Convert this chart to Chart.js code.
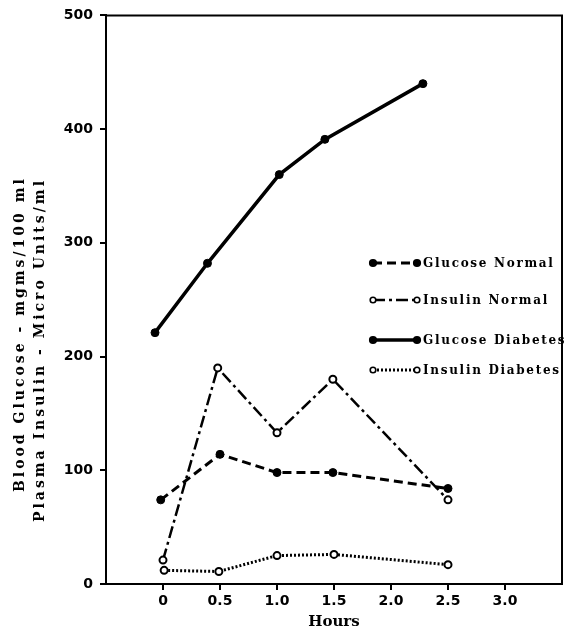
<!DOCTYPE html>
<html>
<head>
<meta charset="utf-8">
<script src="https://cdn.jsdelivr.net/npm/chart.js@4"></script>
<style>
    html, body { margin: 0; padding: 0; background: #fff; }
    #wrap { width: 568px; height: 630px; }
</style>
</head>
<body>
<div id="wrap"><canvas id="chart" width="568" height="630"></canvas></div>
<script>
// ------------------------------------------------------------------ data
const xTicks = [0, 0.5, 1.0, 1.5, 2.0, 2.5, 3.0];
const xTickLabels = ['0', '0.5', '1.0', '1.5', '2.0', '2.5', '3.0'];
const yTicks = [0, 100, 200, 300, 400, 500];

const glucoseNormalHours = [-0.02, 0.5, 1.0, 1.49, 2.5];
const glucoseNormal = [74, 114, 98, 98, 84];

const insulinNormalHours = [0.0, 0.48, 1.0, 1.49, 2.5];
const insulinNormal = [21, 190, 133, 180, 74];

const glucoseDiabetesHours = [-0.07, 0.39, 1.02, 1.42, 2.28];
const glucoseDiabetes = [221, 282, 360, 391, 440];

const insulinDiabetesHours = [0.01, 0.49, 1.0, 1.5, 2.5];
const insulinDiabetes = [12, 11, 25, 26, 17];

const seriesNames = ['Glucose Normal', 'Insulin Normal', 'Glucose Diabetes', 'Insulin Diabetes'];
const yTitleLines = ['Blood Glucose - mgms/100 ml', 'Plasma Insulin - Micro Units/ml'];
const xTitle = 'Hours';

// ------------------------------------------------------------------ helpers
const SERIF = '"DejaVu Serif", serif';
const SANS = '"DejaVu Sans", sans-serif';

const toPoints = (hours, vals) => hours.map((h, i) => ({ x: h, y: vals[i] }));

function series(label, pts, dash, width, open) {
    return {
        label,
        data: pts,
        borderColor: '#000',
        borderWidth: width,
        borderDash: dash,
        borderCapStyle: 'butt',
        tension: 0,
        fill: false,
        pointRadius: open ? 3.5 : 4,
        pointBorderWidth: open ? 2 : 1,
        pointBackgroundColor: open ? '#fff' : '#000',
        pointBorderColor: '#000',
        open
    };
}

// frame on top and right of the plot
const framePlugin = {
    id: 'frame',
    afterDatasetsDraw(chart) {
        const { ctx, chartArea: a } = chart;
        ctx.save();
        ctx.strokeStyle = '#000';
        ctx.lineWidth = 2;
        ctx.beginPath();
        ctx.moveTo(a.left, a.top);
        ctx.lineTo(a.right, a.top);
        ctx.lineTo(a.right, a.bottom);
        ctx.stroke();
        ctx.restore();
    }
};

// two line rotated y title, letter spaced
const yTitlePlugin = {
    id: 'yTitle',
    afterDraw(chart) {
        const ctx = chart.ctx;
        const starts = [[20, 492], [40, 522]];
        ctx.save();
        ctx.fillStyle = '#000';
        ctx.font = 'bold 14px ' + SERIF;
        ctx.letterSpacing = '3px';
        ctx.textBaseline = 'middle';
        ctx.textAlign = 'left';
        yTitleLines.forEach((t, i) => {
            ctx.save();
            ctx.translate(starts[i][0], starts[i][1]);
            ctx.rotate(-Math.PI / 2);
            ctx.fillText(t, 0, 0);
            ctx.restore();
        });
        ctx.restore();
    }
};

// legend: short line sample with a marker at each end
const legendPlugin = {
    id: 'sampleLegend',
    afterDraw(chart) {
        const ctx = chart.ctx;
        const rows = [263, 300, 340, 370];
        const x0 = 373, x1 = 417;
        chart.data.datasets.forEach((ds, i) => {
            const y = rows[i];
            ctx.save();
            ctx.strokeStyle = '#000';
            ctx.lineWidth = ds.borderWidth;
            ctx.setLineDash(ds.borderDash || []);
            ctx.beginPath();
            ctx.moveTo(x0, y);
            ctx.lineTo(x1, y);
            ctx.stroke();
            ctx.setLineDash([]);
            [x0, x1].forEach(x => {
                ctx.beginPath();
                ctx.arc(x, y, ds.open ? 2.8 : 3.3, 0, Math.PI * 2);
                ctx.fillStyle = ds.open ? '#fff' : '#000';
                ctx.fill();
                ctx.lineWidth = 1.6;
                ctx.stroke();
            });
            ctx.fillStyle = '#000';
            ctx.font = 'bold 12px ' + SERIF;
            ctx.letterSpacing = '1.7px';
            ctx.textBaseline = 'middle';
            ctx.fillText(ds.label, 423, y + 1);
            ctx.restore();
        });
    }
};

new Chart(document.getElementById('chart'), {
    type: 'line',
    data: {
        datasets: [
            series(seriesNames[0], toPoints(glucoseNormalHours, glucoseNormal), [9, 5], 3, false),
            series(seriesNames[1], toPoints(insulinNormalHours, insulinNormal), [12, 4, 3, 4], 2.5, true),
            series(seriesNames[2], toPoints(glucoseDiabetesHours, glucoseDiabetes), [], 3.5, false),
            series(seriesNames[3], toPoints(insulinDiabetesHours, insulinDiabetes), [2, 2], 3, true)
        ]
    },
    options: {
        responsive: false,
        animation: false,
        layout: { padding: { left: 0, right: 6, top: 13, bottom: 0 } },
        plugins: { legend: { display: false }, tooltip: { enabled: false } },
        scales: {
            x: {
                type: 'linear',
                min: -0.5,
                max: 3.5,
                afterBuildTicks: s => { s.ticks = xTicks.map(v => ({ value: v })); },
                afterFit: s => { s.height = 46; },
                ticks: {
                    color: '#000',
                    padding: 3,
                    maxRotation: 0,
                    font: { family: SANS, size: 14, weight: 'bold' },
                    callback: v => xTickLabels[xTicks.indexOf(v)]
                },
                grid: { drawOnChartArea: false, drawTicks: true, tickLength: 6, color: '#000', lineWidth: 2 },
                border: { display: true, color: '#000', width: 2 },
                title: {
                    display: true,
                    text: xTitle,
                    color: '#000',
                    font: { family: SERIF, size: 15, weight: 'bold', lineHeight: 1.1 },
                    padding: { top: 0, bottom: 0 }
                }
            },
            y: {
                min: 0,
                max: 500,
                afterBuildTicks: s => { s.ticks = yTicks.map(v => ({ value: v })); },
                afterFit: s => { s.width = 106; },
                ticks: {
                    color: '#000',
                    padding: 7,
                    font: { family: SANS, size: 14, weight: 'bold' }
                },
                grid: { drawOnChartArea: false, drawTicks: true, tickLength: 6, color: '#000', lineWidth: 2 },
                border: { display: true, color: '#000', width: 2 }
            }
        }
    },
    plugins: [framePlugin, yTitlePlugin, legendPlugin]
});
</script>
</body>
</html>
